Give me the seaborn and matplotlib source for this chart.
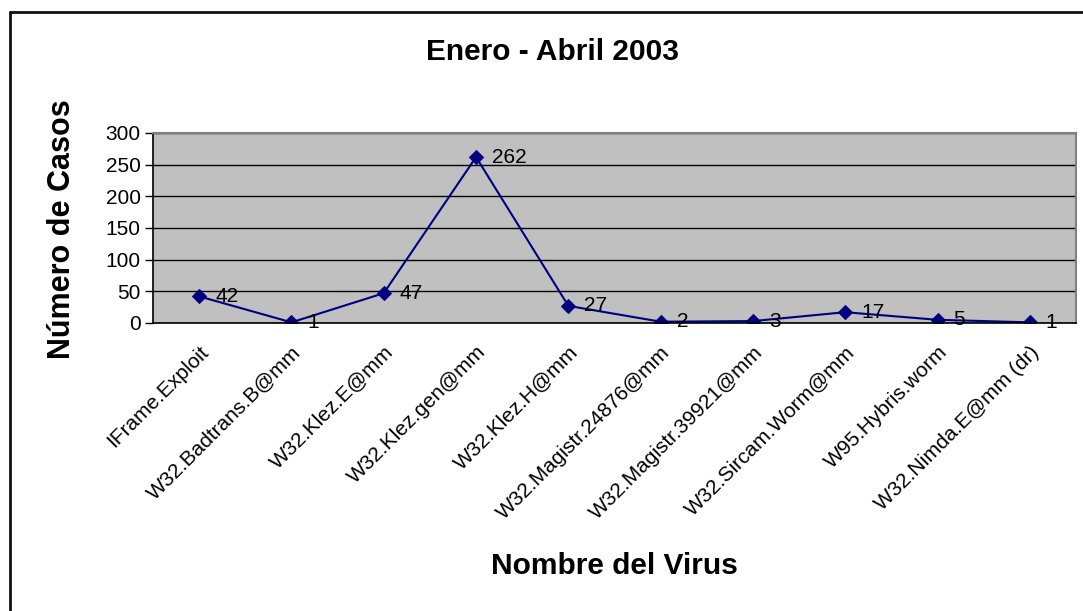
import matplotlib
matplotlib.use("Agg")
import matplotlib.pyplot as plt
from matplotlib.lines import Line2D
from matplotlib.ticker import FixedLocator
import seaborn as sns
import pandas as pd
import numpy as np

# Virus detections, January - April 2003
virus_names = [
    "IFrame.Exploit",
    "W32.Badtrans.B@mm",
    "W32.Klez.E@mm",
    "W32.Klez.gen@mm",
    "W32.Klez.H@mm",
    "W32.Magistr.24876@mm",
    "W32.Magistr.39921@mm",
    "W32.Sircam.Worm@mm",
    "W95.Hybris.worm",
    "W32.Nimda.E@mm (dr)",
]
case_counts = [42, 1, 47, 262, 27, 2, 3, 17, 5, 1]
y_ticks = [0, 50, 100, 150, 200, 250, 300]

title_text = "Enero - Abril 2003"
x_label = "Nombre del Virus"
y_label = "Número de Casos"

df = pd.DataFrame({"pos": np.arange(len(virus_names)), "casos": case_counts})

sns.set_theme(style="white")
plt.rcParams["font.family"] = ["Liberation Sans", "DejaVu Sans"]
for key in ("text.color", "axes.labelcolor", "xtick.color", "ytick.color"):
    plt.rcParams[key] = "black"

fig = plt.figure(figsize=(10.83, 6.11), dpi=100)
ax = fig.add_axes([0.1413, 0.4714, 0.8522, 0.3110])
ax.set_facecolor("#C0C0C0")

navy = "#000080"
sns.lineplot(data=df, x="pos", y="casos", ax=ax, color=navy, linewidth=1.5,
             marker="D", markersize=7, markeredgecolor=navy, markerfacecolor=navy)

# value labels beside each marker
for xi, v in zip(df["pos"], df["casos"]):
    ax.annotate(str(v), (xi, v), xytext=(16, 0), textcoords="offset pixels",
                ha="left", va="center", fontsize=15, color="black")

ax.set_xlim(-0.5, len(virus_names) - 0.5)
ax.set_ylim(y_ticks[0], y_ticks[-1])
ax.yaxis.set_major_locator(FixedLocator(y_ticks))
ax.yaxis.grid(True, color="black", linewidth=1)
ax.xaxis.grid(False)

ax.set_xticks(df["pos"])
ax.set_xticklabels(virus_names, rotation=45, ha="right", va="top",
                   rotation_mode="anchor", fontsize=15)
ax.xaxis.set_minor_locator(FixedLocator(np.arange(-0.5, len(virus_names), 1.0)))
ax.tick_params(axis="x", which="major", length=0, pad=14)
ax.tick_params(axis="x", which="minor", length=6, width=1, color="black", direction="out")
ax.tick_params(axis="y", which="major", length=6, width=1, color="black",
               direction="out", labelsize=15, pad=3, left=True)

for side in ("left", "bottom"):
    ax.spines[side].set_color("black")
    ax.spines[side].set_linewidth(1.2)
for side in ("top", "right"):
    ax.spines[side].set_color("#808080")
    ax.spines[side].set_linewidth(1.5)

ax.set_xlabel("")
ax.set_ylabel("")

fig.text(552 / 1083, 1 - 52 / 611, title_text, ha="center", va="center",
         fontsize=21.5, fontweight="bold")
fig.text(614 / 1083, 1 - 566 / 611, x_label, ha="center", va="center",
         fontsize=21.5, fontweight="bold")
fig.text(62 / 1083, 1 - 229 / 611, y_label, ha="center", va="center",
         rotation=90, fontsize=22, fontweight="bold")

# chart frame, partly outside the canvas
fx, fy = 9.5 / 1083, 1 - 11.5 / 611
fig.add_artist(Line2D([fx, fx], [fy, -0.01], transform=fig.transFigure,
                      color="#111111", linewidth=2))
fig.add_artist(Line2D([fx, 1.01], [fy, fy], transform=fig.transFigure,
                      color="#111111", linewidth=2))

fig.savefig("out.png", dpi=100)
